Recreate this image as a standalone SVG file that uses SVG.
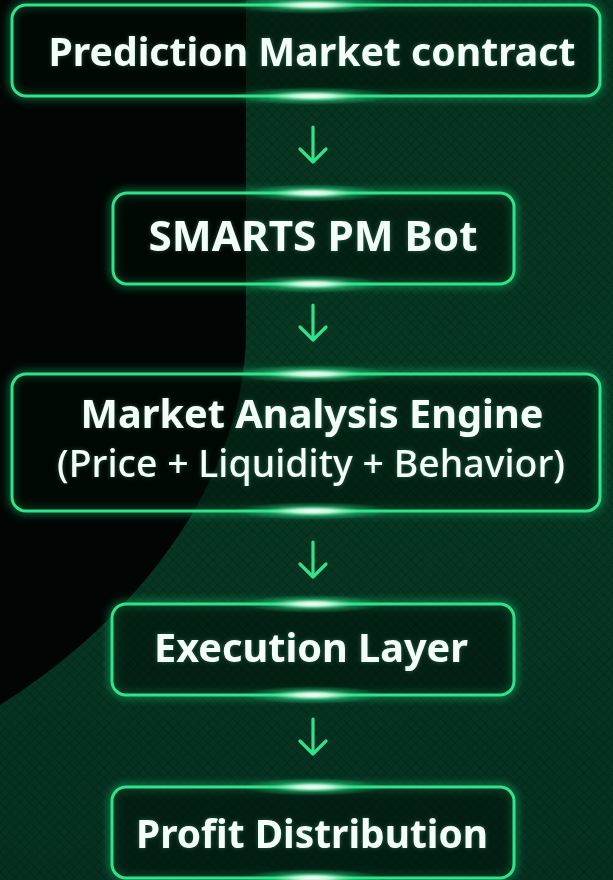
<svg xmlns="http://www.w3.org/2000/svg" width="613" height="880" viewBox="0 0 613 880">
  <defs>
    <style>
      .box { fill: rgba(0,10,5,0.45); stroke: #2fe38b; stroke-width: 3; }
      .boxglow { fill: none; stroke: #1fd47a; stroke-width: 6; opacity: 0.55; filter: url(#blur4); }
      .lbl { font-family: "Noto Sans", "Open Sans", "Liberation Sans", sans-serif; font-weight: 700; fill: #f3fff8; text-anchor: middle; }
      .lbl2 { font-family: "Noto Sans", "Open Sans", "Liberation Sans", sans-serif; font-weight: 500; fill: #f3fff8; text-anchor: middle; }
      .arrow { fill: none; stroke: #2fe38b; stroke-width: 3.2; stroke-linecap: round; stroke-linejoin: round; }
      .hl { fill: url(#hlgrad); }
    </style>
    <filter id="blur4" x="-10%" y="-30%" width="120%" height="160%">
      <feGaussianBlur stdDeviation="4"/>
    </filter>
    <filter id="tglow" x="-10%" y="-30%" width="120%" height="160%">
      <feGaussianBlur in="SourceAlpha" stdDeviation="2" result="b"/>
      <feFlood flood-color="#7dffb8" flood-opacity="0.3"/>
      <feComposite in2="b" operator="in" result="g"/>
      <feMerge><feMergeNode in="g"/><feMergeNode in="SourceGraphic"/></feMerge>
    </filter>
    <radialGradient id="hlgrad" cx="0.5" cy="0.5" r="0.5">
      <stop offset="0" stop-color="#ffffff" stop-opacity="1"/>
      <stop offset="0.25" stop-color="#c8ffe0" stop-opacity="0.9"/>
      <stop offset="0.6" stop-color="#2fe38b" stop-opacity="0.35"/>
      <stop offset="1" stop-color="#2fe38b" stop-opacity="0"/>
    </radialGradient>
    <linearGradient id="bggreen" x1="0" y1="0" x2="0" y2="1">
      <stop offset="0" stop-color="#06331f"/>
      <stop offset="0.5" stop-color="#073924"/>
      <stop offset="1" stop-color="#053020"/>
    </linearGradient>
    <pattern id="hatch" width="7" height="7" patternUnits="userSpaceOnUse" patternTransform="rotate(45)">
      <path d="M0,0 H7 M0,0 V7" stroke="#011a10" stroke-width="1.4" opacity="0.5"/>
    </pattern>
  </defs>

  <!-- background -->
  <rect x="0" y="0" width="613" height="880" fill="url(#bggreen)"/>
  <rect x="0" y="0" width="613" height="880" fill="url(#hatch)"/>
  <path d="M0,0 H246 V330 C246,470 150,610 0,705 Z" fill="#010604"/>

  <!-- connectors -->
  <g id="connectors">
    <path class="arrow" d="M313,127 V162 M300,149 L313,162 L326,149"/>
    <path class="arrow" d="M313,305 V340 M300,327 L313,340 L326,327"/>
    <path class="arrow" d="M313,542 V577 M300,564 L313,577 L326,564"/>
    <path class="arrow" d="M313,719 V754 M300,741 L313,754 L326,741"/>
  </g>

  <g id="node-prediction-market">
    <rect class="boxglow" x="12" y="5" width="588" height="91" rx="14"/>
    <rect class="box" x="12" y="5" width="588" height="91" rx="14"/>
    <ellipse class="hl" cx="313" cy="5" rx="80" ry="9"/>
    <ellipse class="hl" cx="313" cy="96" rx="80" ry="9"/>
    <text class="lbl" filter="url(#tglow)" x="312" y="66" font-size="40" textLength="527" lengthAdjust="spacingAndGlyphs">Prediction Market contract</text>
  </g>

  <g id="node-smarts-bot">
    <rect class="boxglow" x="113" y="193" width="401" height="91" rx="14"/>
    <rect class="box" x="113" y="193" width="401" height="91" rx="14"/>
    <ellipse class="hl" cx="313" cy="193" rx="70" ry="9"/>
    <ellipse class="hl" cx="313" cy="284" rx="70" ry="9"/>
    <text class="lbl" filter="url(#tglow)" x="313" y="251" font-size="42" textLength="329" lengthAdjust="spacingAndGlyphs">SMARTS PM Bot</text>
  </g>

  <g id="node-market-analysis">
    <rect class="boxglow" x="12" y="374" width="588" height="137" rx="14"/>
    <rect class="box" x="12" y="374" width="588" height="137" rx="14"/>
    <ellipse class="hl" cx="313" cy="374" rx="80" ry="9"/>
    <ellipse class="hl" cx="313" cy="511" rx="80" ry="9"/>
    <text class="lbl" filter="url(#tglow)" x="312" y="428" font-size="40" textLength="463" lengthAdjust="spacingAndGlyphs">Market Analysis Engine</text>
    <text class="lbl2" filter="url(#tglow)" x="311" y="477" font-size="38" textLength="508" lengthAdjust="spacingAndGlyphs">(Price + Liquidity + Behavior)</text>
  </g>

  <g id="node-execution">
    <rect class="boxglow" x="112" y="604" width="402" height="91" rx="14"/>
    <rect class="box" x="112" y="604" width="402" height="91" rx="14"/>
    <ellipse class="hl" cx="313" cy="604" rx="70" ry="9"/>
    <ellipse class="hl" cx="313" cy="695" rx="70" ry="9"/>
    <text class="lbl" filter="url(#tglow)" x="311" y="662" font-size="40" textLength="314" lengthAdjust="spacingAndGlyphs">Execution Layer</text>
  </g>

  <g id="node-profit">
    <rect class="boxglow" x="112" y="787" width="402" height="91" rx="14"/>
    <rect class="box" x="112" y="787" width="402" height="91" rx="14"/>
    <ellipse class="hl" cx="313" cy="787" rx="70" ry="9"/>
    <ellipse class="hl" cx="313" cy="878" rx="70" ry="9"/>
    <text class="lbl" filter="url(#tglow)" x="312" y="848" font-size="39" textLength="352" lengthAdjust="spacingAndGlyphs">Profit Distribution</text>
  </g>
</svg>
